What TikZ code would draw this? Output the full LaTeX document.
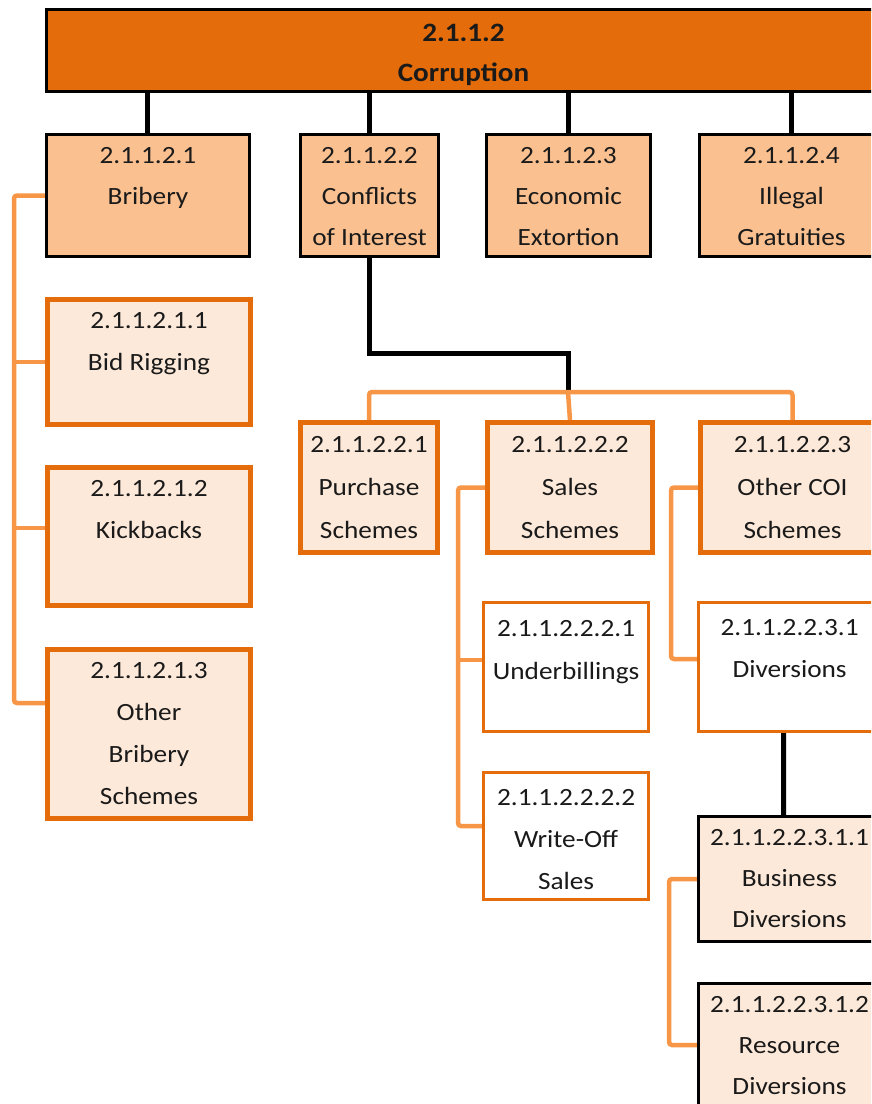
\documentclass[tikz,border=0pt]{standalone}
\usepackage{fontspec}
\setmainfont{Carlito}[FakeStretch=1.1]
\usetikzlibrary{calc}

\definecolor{corrfill}{HTML}{E46C0A}
\definecolor{midfill}{HTML}{FAC090}
\definecolor{palefill}{HTML}{FDE9D9}
\definecolor{edgeorange}{HTML}{E46C0A}
\definecolor{linkorange}{HTML}{F79646}
\definecolor{inktext}{HTML}{1A1A1A}

\pgfdeclarelayer{wires}
\pgfsetlayers{wires,main}

\newcommand\lblskip{41}

\tikzset{
  corrbox/.style={draw=black, line width=3pt, fill=corrfill},
  catbox/.style={draw=black, line width=3pt, fill=midfill},
  subbox/.style={draw=edgeorange, line width=5pt, fill=palefill},
  leafbox/.style={draw=edgeorange, line width=3.2pt, fill=white},
  divbox/.style={draw=black, line width=3pt, fill=palefill},
  lbl/.style={anchor=base, inner sep=0pt, text=inktext,
              font=\fontsize{24.8}{\lblskip}\selectfont},
  blackwire/.style={draw=black, line width=5pt},
  orangewire/.style={draw=linkorange, line width=4.5pt, rounded corners=3pt},
}

% [#1] first baseline below the top edge, #2 name, #3 style,
% #4..#7 corners (x1,y1,x2,y2), #8 text
\newcommand\mkbox[8][30]{%
  \node[#3, rectangle, inner sep=0pt, anchor=north west,
        minimum width={(#6-#4)*1pt}, minimum height={(#7-#5)*1pt}]
        (#2) at (#4,#5) {};
  \node[lbl] (#2-t) at ($(#2.north)+(0,#1)$)
        {\parbox[t]{220pt}{\centering #8}};
}

\begin{document}
\begin{tikzpicture}[x=1pt, y=-1pt]
  \useasboundingbox (0,0) rectangle (871,1104);
  \clip (0,0) rectangle (871,1104);

  % root
  \node[corrbox, rectangle, inner sep=0pt, anchor=north west,
        minimum width=834pt, minimum height=82pt] (root) at (45,8) {};
  \node[lbl, font=\fontsize{26.5}{40}\selectfont\bfseries] (root-t)
        at ($(root.north)+(0,33)$)
        {\parbox[t]{300pt}{\centering 2.1.1.2\\Corruption}};

  % first level
  \mkbox{bri}{catbox}{45}{133}{248}{255}{2.1.1.2.1\\Bribery}
  \mkbox{coi}{catbox}{299}{133}{437}{255}{2.1.1.2.2\\Conflicts\\of Interest}
  \mkbox{ext}{catbox}{485}{133}{649}{255}{2.1.1.2.3\\Economic\\Extortion}
  \mkbox{gra}{catbox}{698}{133}{882}{255}{2.1.1.2.4\\Illegal\\Gratuities}

  % bribery branch
  \renewcommand\lblskip{42}
  \mkbox[31]{bid}{subbox}{45}{297}{248}{422}{2.1.1.2.1.1\\Bid Rigging}
  \mkbox[31]{kick}{subbox}{45}{465}{248}{603}{2.1.1.2.1.2\\Kickbacks}
  \mkbox[31]{obr}{subbox}{45}{647}{248}{816}{2.1.1.2.1.3\\Other\\Bribery\\Schemes}

  % conflicts of interest branch
  \renewcommand\lblskip{43}
  \mkbox[32]{pur}{subbox}{298}{420}{435}{550}{2.1.1.2.2.1\\Purchase\\Schemes}
  \mkbox[32]{sal}{subbox}{485}{420}{650}{550}{2.1.1.2.2.2\\Sales\\Schemes}
  \mkbox[32]{ocoi}{subbox}{698}{420}{882}{550}{2.1.1.2.2.3\\Other COI\\Schemes}

  \mkbox[35]{und}{leafbox}{482}{601}{647}{730}{2.1.1.2.2.2.1\\Underbillings}
  \renewcommand\lblskip{42}
  \mkbox[34]{wri}{leafbox}{482}{771}{647}{898}{2.1.1.2.2.2.2\\Write-Off\\Sales}
  \mkbox[34]{div}{leafbox}{697}{601}{879}{730}{2.1.1.2.2.3.1\\Diversions}

  \renewcommand\lblskip{41}
  \mkbox{bus}{divbox}{697}{815}{879}{940}{2.1.1.2.2.3.1.1\\Business\\Diversions}
  \mkbox{res}{divbox}{697}{982}{879}{1122}{2.1.1.2.2.3.1.2\\Resource\\Diversions}

  % junction points of the connectors
  \coordinate (bspine) at (14,0);
  \coordinate (sspine) at (458,0);
  \coordinate (ospine) at (671,0);
  \coordinate (rspine) at (669,0);
  \coordinate (coij) at (568,392);

  \begin{pgfonlayer}{wires}
    % root to first level
    \draw[blackwire] (root.south -| 147,0) -- (bri.north -| 147,0);
    \draw[blackwire] (root.south -| coi.north) -- (coi.north);
    \draw[blackwire] (root.south -| ext.north) -- (ext.north);
    \draw[blackwire] (root.south -| gra.north) -- (gra.north);

    % bribery
    \draw[orangewire] (bri.west) -| (bspine |- obr.north)
       |- ([yshift=-56pt]obr.north west);
    \draw[orangewire] (bid.west) -- (bid.west -| bspine);
    \draw[orangewire] ([yshift=-63pt]kick.north west)
       -- ([yshift=-63pt]kick.north west -| bspine);

    % conflicts of interest
    \draw[blackwire] (coi.south) -- ++(0,95) -| (coij);
    \draw[orangewire] (pur.north) |- (coij) -| (ocoi.north);
    \draw[orangewire] (coij) -- (sal.north);

    % sales schemes
    \draw[orangewire] (sal.west) -| (sspine |- wri.north)
       |- ([yshift=-55pt]wri.north west);
    \draw[orangewire] ([yshift=-59pt]und.north west)
       -- ([yshift=-59pt]und.north west -| sspine);

    % other COI schemes
    \draw[orangewire] (ocoi.west) -| (ospine |- div.north)
       |- ([yshift=-58pt]div.north west);

    % diversions
    \draw[blackwire] ([xshift=-6pt]div.south) -- ([xshift=-6pt]bus.north);
    \draw[orangewire] (bus.west) -| (rspine |- res.north)
       |- ([yshift=-63pt]res.north west);
  \end{pgfonlayer}
\end{tikzpicture}
\end{document}
